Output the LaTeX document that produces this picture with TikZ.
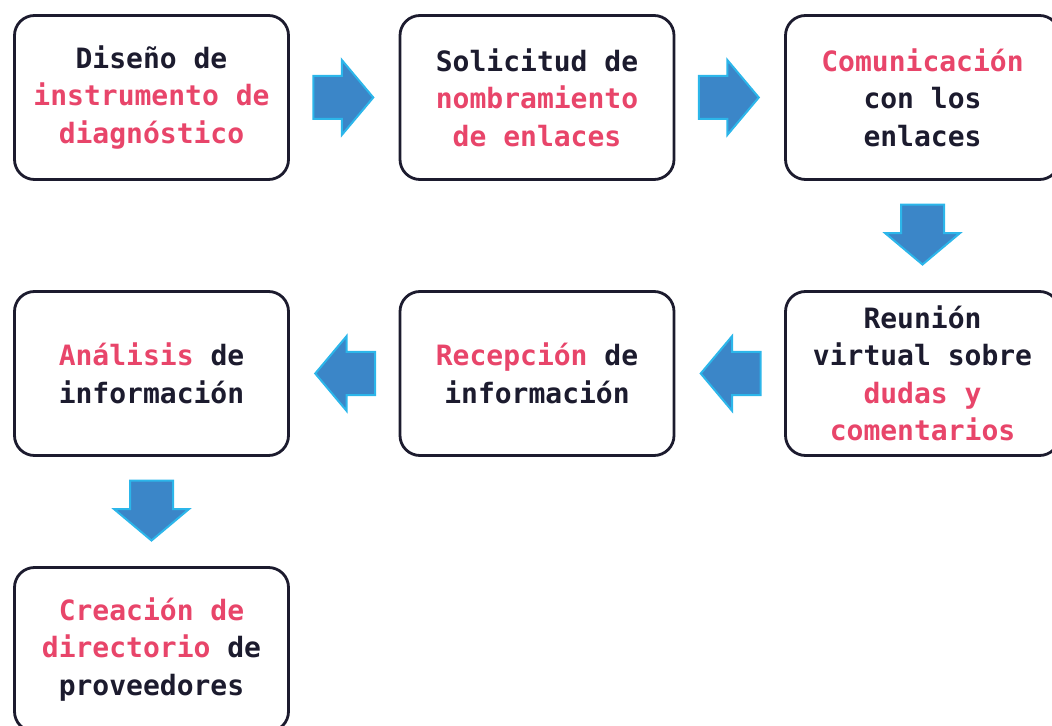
\documentclass[tikz,border=0pt]{standalone}
\usepackage{fontspec}
\setmonofont{DejaVu Sans Mono}
\usepackage{tikz}
\usetikzlibrary{calc}
\usetikzlibrary{shapes.arrows}
\definecolor{ink}{HTML}{1C1B2E}
\definecolor{rosa}{HTML}{E8456A}
\definecolor{azul}{HTML}{3B86C8}
\definecolor{celeste}{HTML}{2CB6EA}
\newcommand{\rosa}[1]{{\color{rosa}#1}}

\begin{document}
\begin{tikzpicture}[x=0.5pt,y=-0.5pt,node distance=192.75pt,text=ink,font=\ttfamily\bfseries\fontsize{14}{18.75}\selectfont]
  \tikzstyle{stage}=[draw=ink,line width=1.4pt,rounded corners=10pt,minimum width=137pt,minimum height=82pt,inner sep=0pt,align=center]
  \tikzstyle{flow}=[single arrow,draw=celeste,fill=azul,line width=1pt,inner xsep=0pt,inner ysep=10.25pt,minimum height=30pt,single arrow head extend=8pt,single arrow tip angle=100]

  \clip (0,0) rectangle (1052,726);

  \node[stage] (D) at (151.5,97.5)         {Diseño de\\ \rosa{instrumento de}\\ \rosa{diagnóstico}};
  \node[stage] (S) [right of=D]            {Solicitud de\\ \rosa{nombramiento}\\ \rosa{de enlaces}};
  \node[stage] (C) [right of=S]            {\rosa{Comunicación}\\ con los\\ enlaces};
  \node[stage] (R) at (922.5,373.5)        {Reunión\\ virtual sobre\\ \rosa{dudas y}\\ \rosa{comentarios}};
  \node[stage] (E) [left of=R]             {\rosa{Recepción} de\\ información};
  \node[stage] (A) [left of=E]             {\rosa{Análisis} de\\ información};
  \node[stage] (P) at (151.5,649.5)        {\rosa{Creación de}\\ \rosa{directorio} de\\ proveedores};

  % the arrow sits ahead of its centre, so pull it back 10px
  \node[flow]            (f1) at ($(D.east)!0.5!(S.west)+(-10,0)$) {};
  \node[flow]            (f2) at ($(S.east)!0.5!(C.west)+(-10,0)$) {};
  \node[flow,rotate=-90] (f3) at ($(C.south)!0.5!(R.north)+(0,-10)$) {};
  \node[flow,rotate=180] (f4) at ($(R.west)!0.5!(E.east)+(10,0)$) {};
  \node[flow,rotate=180] (f5) at ($(E.west)!0.5!(A.east)+(10,0)$) {};
  \node[flow,rotate=-90] (f6) at ($(A.south)!0.5!(P.north)+(0,-10)$) {};
\end{tikzpicture}
\end{document}
